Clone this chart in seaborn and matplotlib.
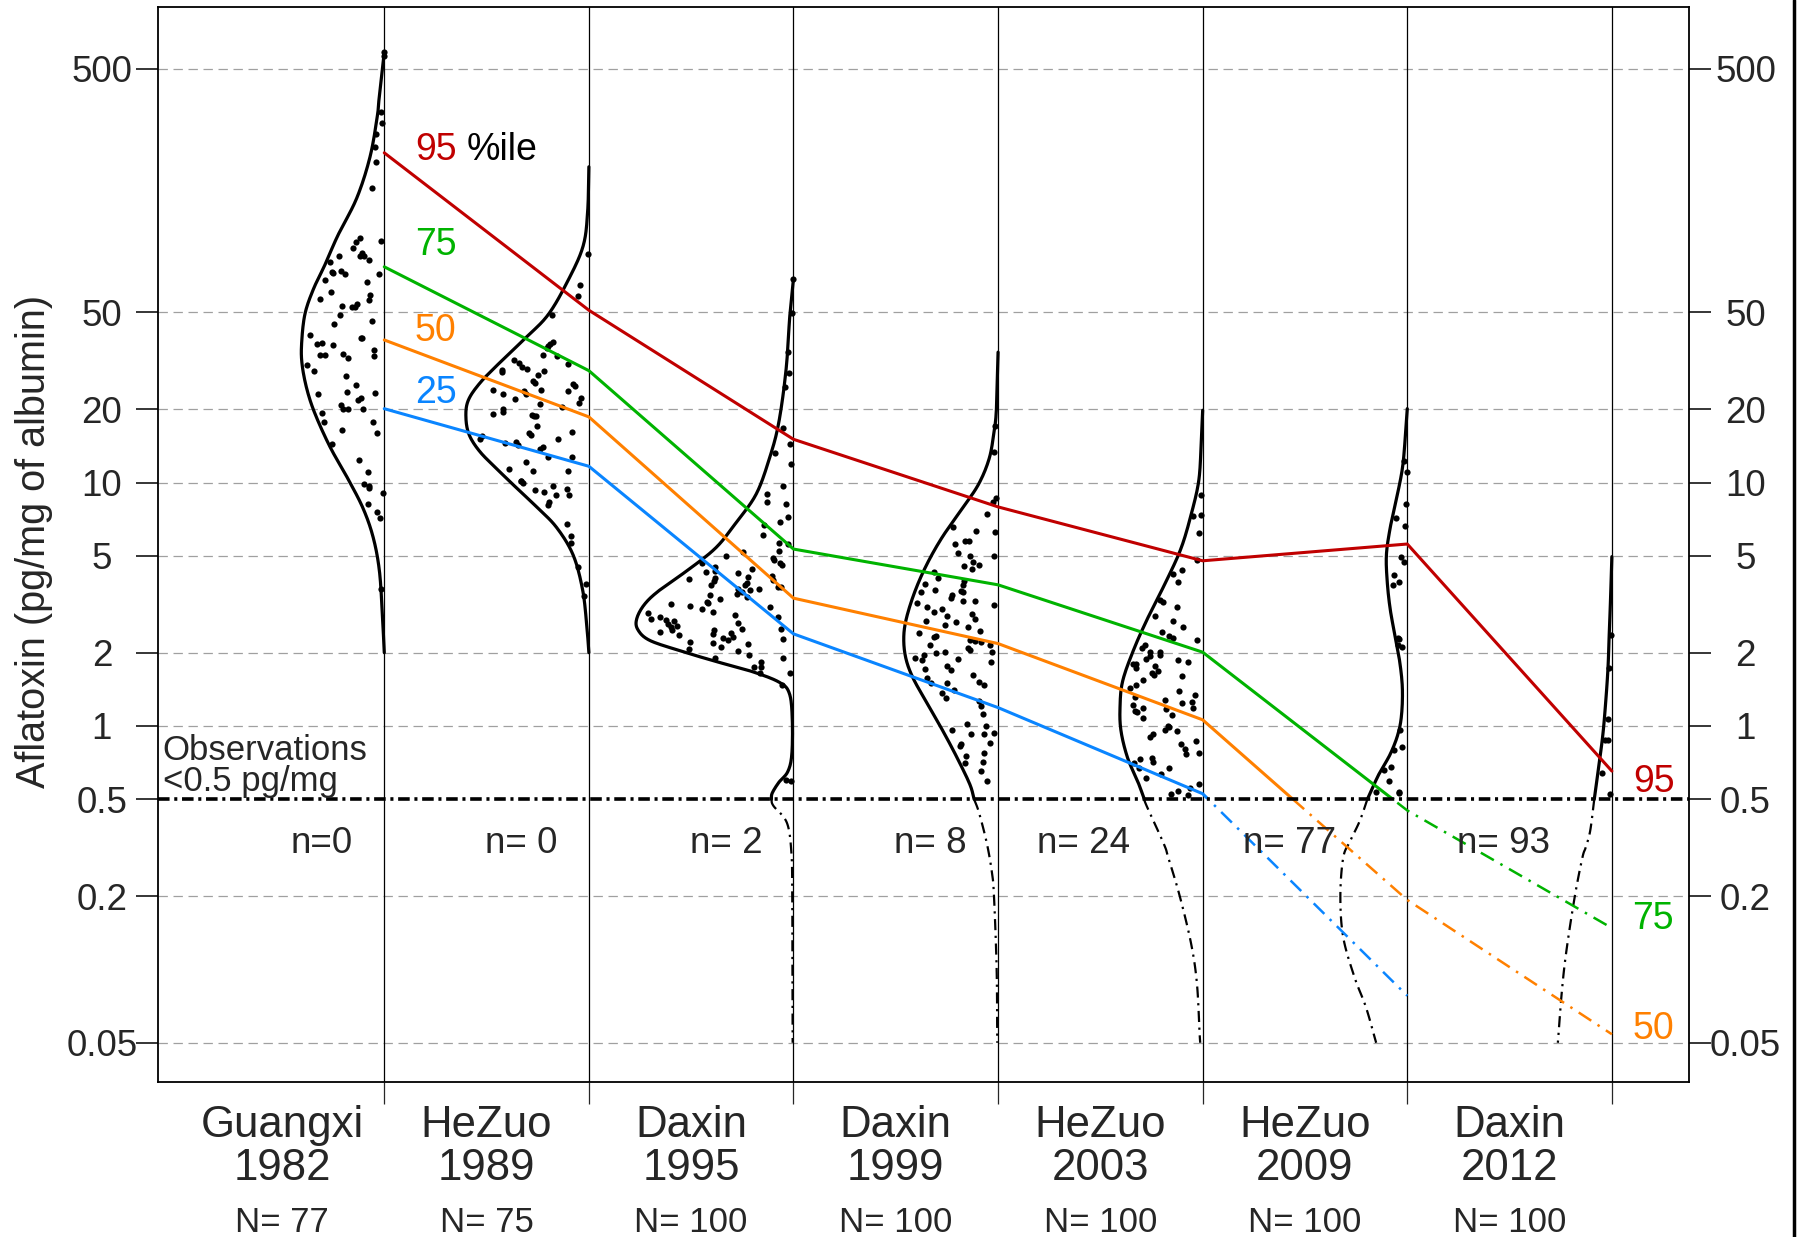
import numpy as np
import pandas as pd
import matplotlib
matplotlib.use("Agg")
import matplotlib.pyplot as plt
import seaborn as sns
from matplotlib.patches import Rectangle
from matplotlib.lines import Line2D
from matplotlib.ticker import NullLocator

# ---------------- data ----------------
sites = ["Guangxi", "HeZuo", "Daxin", "Daxin", "HeZuo", "HeZuo", "Daxin"]
years = ["1982", "1989", "1995", "1999", "2003", "2009", "2012"]
n_total = [77, 75, 100, 100, 100, 100, 100]
n_below = [0, 0, 2, 8, 24, 77, 93]

# observed values (pg/mg albumin) above the 0.5 detection limit
obs_1982 = [587, 565, 333, 299, 269, 239, 208, 162, 101, 98.4, 97.2, 91.7, 87.5, 84.8, 84.8, 84.8,
            82.2, 80.6, 74.0, 73.1, 72.5, 72.0, 71.7, 67.9, 66.3, 60.8, 58.7, 56.7, 56.0, 54.1, 53.0,
            52.6, 52.4, 48.9, 45.9, 44.8, 40.4, 39.3, 39.3, 37.5, 37.0, 36.6, 34.9, 33.8, 33.4, 33.4,
            33.2, 32.4, 30.3, 28.7, 27.4, 25.2, 23.6, 23.3, 23.2, 22.2, 21.8, 20.8, 20.0, 20.0, 20.0,
            19.3, 17.8, 17.8, 16.4, 15.9, 14.4, 12.4, 11.0, 9.88, 9.69, 9.50, 9.06, 8.19, 7.60, 7.17, 3.65]
obs_1989 = [86.4, 64.5, 58.5, 48.9, 37.8, 37.1, 36.2, 35.7, 33.4, 33.2, 31.9, 31.1, 30.8, 29.9, 29.3,
            29.1, 28.8, 28.4, 27.7, 26.2, 25.6, 25.4, 24.8, 24.1, 24.0, 23.8, 23.8, 23.2, 23.2, 22.3,
            22.1, 21.3, 21.0, 20.4, 20.0, 19.5, 19.1, 18.9, 18.8, 18.8, 17.1, 16.1, 16.0, 15.6, 15.5,
            15.1, 15.1, 14.7, 14.6, 14.3, 14.0, 13.7, 12.7, 12.7, 12.1, 11.4, 11.1, 11.1, 10.1, 10.1,
            10.0, 9.65, 9.41, 9.28, 9.11, 8.90, 8.90, 8.34, 8.07, 6.75, 6.03, 5.65, 4.50, 3.83, 3.42]
obs_1995 = [68.8, 49.9, 34.5, 28.2, 24.6, 16.7, 14.4, 13.2, 11.9, 9.66, 8.97, 8.33, 8.16, 7.20, 6.90,
            6.69, 6.09, 5.65, 5.60, 5.23, 5.20, 4.98, 4.89, 4.81, 4.68, 4.65, 4.57, 4.50, 4.42, 4.32,
            4.28, 4.23, 4.13, 4.11, 4.07, 4.02, 3.97, 3.93, 3.86, 3.80, 3.78, 3.74, 3.71, 3.67, 3.64,
            3.61, 3.55, 3.49, 3.44, 3.38, 3.32, 3.24, 3.21, 3.16, 3.10, 3.07, 3.03, 2.95, 2.90, 2.85,
            2.81, 2.81, 2.76, 2.73, 2.69, 2.65, 2.62, 2.58, 2.54, 2.51, 2.51, 2.49, 2.47, 2.43, 2.41,
            2.39, 2.37, 2.33, 2.29, 2.27, 2.25, 2.22, 2.19, 2.18, 2.12, 2.07, 2.04, 1.95, 1.91, 1.91,
            1.84, 1.74, 1.74, 1.65, 1.65, 1.48, 0.600, 0.596]
obs_1999 = [17.0, 13.3, 8.65, 8.33, 7.46, 6.58, 6.34, 6.28, 5.75, 5.75, 5.57, 5.12, 4.99, 4.99, 4.73,
            4.58, 4.54, 4.41, 4.30, 4.07, 3.94, 3.82, 3.80, 3.63, 3.60, 3.56, 3.54, 3.45, 3.35, 3.27,
            3.27, 3.19, 3.14, 3.09, 3.03, 2.95, 2.88, 2.82, 2.75, 2.69, 2.67, 2.60, 2.54, 2.46, 2.41,
            2.35, 2.31, 2.26, 2.24, 2.21, 2.16, 2.16, 2.10, 2.06, 2.02, 2.01, 1.99, 1.95, 1.90, 1.89,
            1.87, 1.84, 1.76, 1.72, 1.70, 1.62, 1.57, 1.51, 1.50, 1.50, 1.48, 1.41, 1.37, 1.30, 1.27,
            1.21, 1.12, 1.02, 1.00, 0.967, 0.937, 0.929, 0.929, 0.853, 0.840, 0.827, 0.776, 0.752,
            0.713, 0.702, 0.653, 0.594]
obs_2003 = [8.92, 7.34, 7.30, 6.18, 4.81, 4.37, 4.20, 3.89, 3.30, 3.22, 3.07, 2.84, 2.69, 2.54, 2.44,
            2.35, 2.30, 2.26, 2.16, 2.09, 2.02, 2.01, 1.96, 1.93, 1.89, 1.87, 1.84, 1.80, 1.79, 1.76,
            1.73, 1.68, 1.65, 1.62, 1.60, 1.54, 1.48, 1.43, 1.39, 1.34, 1.31, 1.28, 1.26, 1.24, 1.22,
            1.19, 1.19, 1.17, 1.15, 1.14, 1.11, 1.08, 1.00, 0.989, 0.967, 0.952, 0.923, 0.900, 0.866,
            0.845, 0.801, 0.776, 0.764, 0.740, 0.729, 0.713, 0.706, 0.674, 0.670, 0.633, 0.613, 0.579,
            0.558, 0.541, 0.524, 0.521]
obs_2009 = [12.2, 11.0, 8.15, 7.18, 6.62, 4.96, 4.70, 4.17, 3.92, 3.80, 2.30, 2.28, 2.16, 2.12, 0.961,
            0.819, 0.796, 0.678, 0.657, 0.594, 0.537, 0.536, 0.532]
obs_2012 = [2.37, 1.73, 1.07, 0.880, 0.880, 0.639, 0.524]

# density outline: value levels and half-widths (in group-spacing units)
dens_val_1982 = [587, 389, 320, 217, 147, 103, 78.4, 62.1, 49.1, 37.3, 30.7, 24.3, 19.2, 14.0, 10.3,
                 7.81, 5.94, 4.35, 2.94, 2.0]
dens_w_1982 = [0, 0.024, 0.034, 0.070, 0.135, 0.228, 0.290, 0.347, 0.388, 0.404, 0.402, 0.379, 0.339,
               0.265, 0.176, 0.103, 0.054, 0.024, 0.010, 0.0]
dens_val_1989 = [198, 130, 93.7, 67.8, 48.9, 39.0, 31.1, 25.6, 21.7, 18.5, 15.7, 13.4, 11.4, 9.65, 7.95,
                 6.54, 5.04, 3.64, 2.63, 2.0]
dens_w_1989 = [0, 0.006, 0.028, 0.101, 0.199, 0.313, 0.435, 0.533, 0.590, 0.601, 0.585, 0.533, 0.451,
               0.362, 0.256, 0.158, 0.077, 0.031, 0.011, 0.0]
dens_val_1995 = [68.8, 48.3, 29.2, 17.6, 12.6, 8.97, 6.85, 5.41, 4.42, 3.61, 3.16, 2.76, 2.49, 2.25, 2.04,
                 1.84, 1.67, 1.51, 1.36, 1.075, 0.767, 0.649, 0.586, 0.530, 0.5]
dens_w_1995 = [0, 0.018, 0.036, 0.072, 0.117, 0.182, 0.280, 0.378, 0.508, 0.655, 0.728, 0.766, 0.761,
               0.704, 0.557, 0.378, 0.199, 0.068, 0.020, 0.006, 0.008, 0.028, 0.072, 0.104, 0.108]
dens_lo_val_1995 = [0.5, 0.47, 0.40, 0.3, 0.2, 0.1, 0.05]
dens_lo_w_1995 = [0.108, 0.098, 0.032, 0.010, 0.006, 0.005, 0.004]
dens_val_1999 = [34.3, 20.1, 16.1, 12.5, 9.75, 7.58, 5.89, 4.58, 3.56, 2.77, 2.30, 1.90, 1.57, 1.22,
                 0.952, 0.740, 0.576, 0.5]
dens_w_1999 = [0, 0.008, 0.020, 0.044, 0.098, 0.187, 0.277, 0.350, 0.407, 0.448, 0.461, 0.451, 0.415,
               0.342, 0.269, 0.200, 0.138, 0.117]
dens_lo_val_1999 = [0.5, 0.44, 0.33, 0.25, 0.2, 0.1, 0.05]
dens_lo_w_1999 = [0.117, 0.093, 0.055, 0.030, 0.020, 0.007, 0.004]
dens_val_2003 = [19.8, 13.8, 10.06, 7.35, 5.36, 3.92, 2.86, 2.09, 1.53, 1.19, 0.952, 0.740, 0.594, 0.5]
dens_w_2003 = [0, 0.008, 0.020, 0.057, 0.106, 0.179, 0.261, 0.334, 0.391, 0.404, 0.399, 0.367, 0.318,
               0.285]
dens_lo_val_2003 = [0.5, 0.47, 0.328, 0.288, 0.2, 0.127, 0.0874, 0.0547, 0.05]
dens_lo_w_2003 = [0.285, 0.274, 0.190, 0.168, 0.112, 0.056, 0.028, 0.015, 0.012]
dens_val_2009 = [20.1, 15.6, 11.4, 8.33, 6.48, 5.04, 3.92, 3.04, 2.37, 1.84, 1.43, 1.11, 0.923, 0.764,
                 0.633, 0.5]
dens_w_2009 = [0, 0.009, 0.024, 0.056, 0.084, 0.102, 0.098, 0.084, 0.061, 0.037, 0.024, 0.028, 0.046,
               0.084, 0.139, 0.195]
dens_lo_val_2009 = [0.5, 0.408, 0.337, 0.288, 0.2, 0.1356, 0.093, 0.070, 0.05]
dens_lo_w_2009 = [0.195, 0.232, 0.279, 0.313, 0.327, 0.313, 0.258, 0.202, 0.152]
dens_val_2012 = [4.96, 3.24, 2.37, 1.73, 1.26, 0.923, 0.674, 0.5]
dens_w_2012 = [0, 0.007, 0.013, 0.019, 0.030, 0.044, 0.065, 0.086]
dens_lo_val_2012 = [0.5, 0.371, 0.317, 0.288, 0.2, 0.1196, 0.082, 0.05]
dens_lo_w_2012 = [0.086, 0.106, 0.128, 0.144, 0.181, 0.222, 0.244, 0.264]

# percentiles at each survey
pct95 = [226, 51, 15.05, 7.94, 4.77, 5.59, 0.653]
pct75 = [76.9, 28.8, 5.33, 3.80, 2.01, 0.45, 0.148]
pct50 = [38.5, 18.6, 3.35, 2.18, 1.06, 0.193, 0.0542]
pct25 = [20.1, 11.66, 2.39, 1.19, 0.527, 0.078]

lod = 0.5
ytick_vals = [0.05, 0.2, 0.5, 1, 2, 5, 10, 20, 50, 500]
ytick_text = ["0.05", "0.2", "0.5", "1", "2", "5", "10", "20", "50", "500"]

obs_all = [obs_1982, obs_1989, obs_1995, obs_1999, obs_2003, obs_2009, obs_2012]
dens_hi = [(dens_val_1982, dens_w_1982), (dens_val_1989, dens_w_1989), (dens_val_1995, dens_w_1995),
           (dens_val_1999, dens_w_1999), (dens_val_2003, dens_w_2003), (dens_val_2009, dens_w_2009),
           (dens_val_2012, dens_w_2012)]
dens_lo = [None, None, (dens_lo_val_1995, dens_lo_w_1995), (dens_lo_val_1999, dens_lo_w_1999),
           (dens_lo_val_2003, dens_lo_w_2003), (dens_lo_val_2009, dens_lo_w_2009),
           (dens_lo_val_2012, dens_lo_w_2012)]

# ---------------- style ----------------
sns.set_style("ticks")
plt.rcParams["font.family"] = ["Liberation Sans", "DejaVu Sans"]
plt.rcParams["axes.edgecolor"] = "black"

RED, GREEN, ORANGE, BLUE = "#C00000", "#00B300", "#FF8000", "#0A85FF"

fig = plt.figure(figsize=(17.97, 12.37), dpi=100)
ax = fig.add_axes([0.08815, 0.12530, 0.85175, 0.86928])
ax.set_yscale("log")
ax.set_xlim(-0.104, 7.377)
ax.set_ylim(0.0345, 900)

for s in ax.spines.values():
    s.set_linewidth(1.3)
    s.set_color("black")

# grid
for v in ytick_vals:
    if v != lod:
        ax.axhline(v, color="#a0a0a0", lw=0.9, ls=(0, (7.5, 4.5)), zorder=1)

seps = np.arange(1, 8)
for xs in seps:
    ax.axvline(xs, color="black", lw=0.9, zorder=2)


def catmull(px, py, n=14):
    P = np.column_stack([np.asarray(px, float), np.asarray(py, float)])
    if len(P) < 3:
        return P[:, 0], P[:, 1]
    P = np.vstack([2 * P[0] - P[1], P, 2 * P[-1] - P[-2]])
    t = np.linspace(0, 1, n, endpoint=False)[:, None]
    out = []
    for i in range(1, len(P) - 2):
        p0, p1, p2, p3 = P[i - 1], P[i], P[i + 1], P[i + 2]
        seg = 0.5 * ((2 * p1) + (-p0 + p2) * t + (2 * p0 - 5 * p1 + 4 * p2 - p3) * t ** 2
                     + (-p0 + 3 * p1 - 3 * p2 + p3) * t ** 3)
        out.append(seg)
    out.append(P[-2][None, :])
    out = np.vstack(out)
    return out[:, 0], out[:, 1]


dot_x, dot_y = [], []
for g in range(7):
    sep = seps[g]
    hv, hw = dens_hi[g]
    w_s, lv_s = catmull(hw, np.log10(hv))
    ax.plot(sep - np.clip(w_s, 0, None), 10 ** lv_s, color="black", lw=2.3, zorder=4,
            solid_capstyle="round")
    allv, allw = list(hv), list(hw)
    if dens_lo[g] is not None:
        lvv, lww = dens_lo[g]
        w_s, lv_s = catmull(lww, np.log10(lvv))
        ax.plot(sep - np.clip(w_s, 0, None), 10 ** lv_s, color="black", lw=1.6, zorder=4,
                dashes=(5, 2.5, 1, 2.5))
        allv += list(lvv[1:])
        allw += list(lww[1:])
    lvals = np.log10(allv)[::-1]
    wvals = np.array(allw)[::-1]
    for k, v in enumerate(obs_all[g]):
        # deterministic scatter (sina-style) inside the density outline
        f = (np.sin((k + 1) * 12.9898 + (g + 1) * 78.233) * 43758.5453) % 1.0
        frac = 0.05 + 0.90 * f
        W = np.interp(np.log10(v), lvals, wvals)
        dot_x.append(sep - frac * W)
        dot_y.append(v)

dots = pd.DataFrame({"x": dot_x, "y": dot_y})
sns.scatterplot(data=dots, x="x", y="y", color="black", s=20, linewidth=0, ax=ax, zorder=3,
                legend=False)

# percentile lines: solid above LOD, dash-dot below
for vals, col in [(pct95, RED), (pct75, GREEN), (pct50, ORANGE), (pct25, BLUE)]:
    xx = seps[:len(vals)]
    sns.lineplot(x=xx, y=vals, color=col, lw=2.2, ax=ax, sort=False, estimator=None, zorder=5)
    ln = ax.lines[-1]
    ln.set_clip_path(Rectangle((-5, lod), 20, 1e5, transform=ax.transData))
    sns.lineplot(x=xx, y=vals, color=col, lw=1.8, ax=ax, sort=False, estimator=None, zorder=5)
    ln = ax.lines[-1]
    ln.set_dashes((6, 3, 1, 3))
    ln.set_clip_path(Rectangle((-5, 1e-4), 20, lod - 1e-4, transform=ax.transData))

ax.set_xlabel("")
ax.set_ylabel("")

# detection limit line
ax.axhline(lod, color="black", lw=2.6, dashes=(3.2, 1.3, 0.85, 1.3), zorder=6)

# axes ticks
ax.set_yticks(ytick_vals)
ax.set_yticklabels(ytick_text)
ax.yaxis.set_minor_locator(NullLocator())
ax.tick_params(axis="y", which="major", direction="out", length=16, width=1.3, pad=24.7,
               labelsize=26.5, left=True, right=True, labelleft=True, labelright=True)
for t in ax.yaxis.get_major_ticks():
    t.label1.set_horizontalalignment("center")
    t.label2.set_horizontalalignment("center")

ax.set_xticks(seps)
ax.set_xticklabels([])
ax.xaxis.set_minor_locator(NullLocator())
ax.tick_params(axis="x", which="major", direction="out", length=16, width=0.9, top=False)

xtr = ax.get_xaxis_transform()
for g in range(7):
    ax.text(seps[g] - 0.5, -0.021, f"{sites[g]}\n{years[g]}", transform=xtr, ha="center",
            va="top", fontsize=31.5, linespacing=1.08, clip_on=False)
    ax.text(seps[g] - 0.5, -0.1392, f"N= {n_total[g]}", transform=xtr, ha="center",
            va="baseline", fontsize=25, clip_on=False)

n_label_x = [0.696, 1.668, 2.671, 3.668, 4.420, 5.423, 6.471]
for g in range(7):
    txt = f"n={n_below[g]}" if g == 0 else f"n= {n_below[g]}"
    ax.text(n_label_x[g], 0.328, txt, ha="center", va="center", fontsize=26.5, zorder=7)

# percentile labels
ax.text(1.15, 232, "95", color=RED, fontsize=27, ha="left", va="center")
ax.text(1.404, 232, "%ile", color="black", fontsize=27, ha="left", va="center")
ax.text(1.15, 94.4, "75", color=GREEN, fontsize=27, ha="left", va="center")
ax.text(1.15, 42, "50", color=ORANGE, fontsize=27, ha="left", va="center")
ax.text(1.15, 23.3, "25", color=BLUE, fontsize=27, ha="left", va="center")
ax.text(7.105, 0.589, "95", color=RED, fontsize=27, ha="left", va="center")
ax.text(7.10, 0.161, "75", color=GREEN, fontsize=27, ha="left", va="center")
ax.text(7.10, 0.0568, "50", color=ORANGE, fontsize=27, ha="left", va="center")

ax.text(-0.0836, 0.505, "Observations\n<0.5 pg/mg", fontsize=25, ha="left", va="bottom",
        linespacing=0.95, zorder=7)

fig.text(0.0189, 0.5627, "Aflatoxin (pg/mg of albumin)", rotation=90, ha="center", va="center",
         fontsize=28.5)

fig.add_artist(Line2D([0.9985, 0.9985], [0, 1], transform=fig.transFigure, color="black", lw=2.5))

fig.savefig("out.png", dpi=100)
